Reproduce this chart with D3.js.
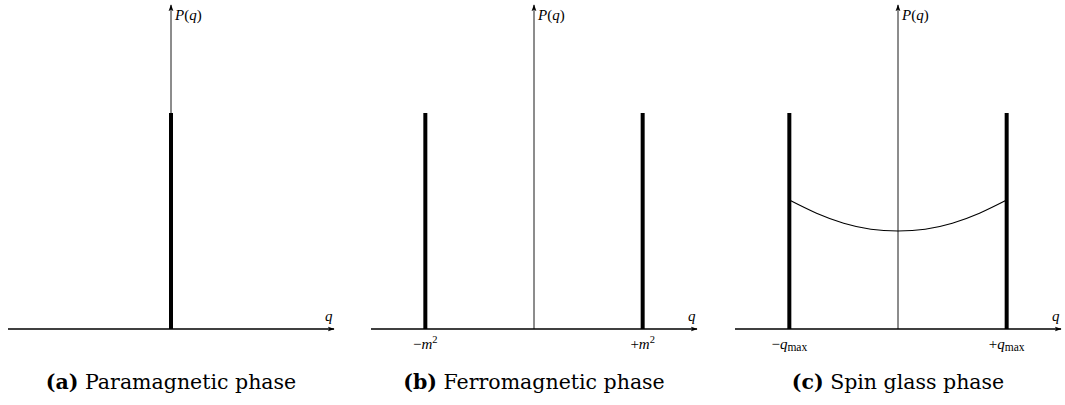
<!DOCTYPE html>
<html>
<head>
<meta charset="utf-8">
<script src="https://cdn.jsdelivr.net/npm/d3@7"></script>
<style>
  body { margin: 0; background: #fff; }
  text { font-family: "Liberation Serif", "DejaVu Serif", serif; fill: #000; }
</style>
</head>
<body>
<svg id="chart" width="1065" height="405"></svg>
<script>
var width = 1065;
var height = 405;

// panel data
var panelCenters = [171, 534, 898];
var captionTags = ["(a)", "(b)", "(c)"];
var captionNames = ["Paramagnetic phase", "Ferromagnetic phase", "Spin glass phase"];
var spikesA = [0];
var spikesB = [-1, 1];
var spikesC = [-1, 1];
var spikeHeight = 1;
var labelsB = [{ q: -1, sign: "\u2212", base: "m", sup: "2" }, { q: 1, sign: "+", base: "m", sup: "2" }];
var labelsC = [{ q: -1, sign: "\u2212", base: "q", sub: "max" }, { q: 1, sign: "+", base: "q", sub: "max" }];
var curveQ = [-1, -0.75, -0.5, -0.25, 0, 0.25, 0.5, 0.75, 1];
var curveP = [0.597, 0.536, 0.49, 0.462, 0.454, 0.462, 0.49, 0.536, 0.597];

var svg = d3.select("#chart");

var defs = svg.append("defs");
defs.append("marker")
  .attr("id", "arrow")
  .attr("viewBox", "0 0 10 10")
  .attr("refX", 9).attr("refY", 5)
  .attr("markerWidth", 7).attr("markerHeight", 7)
  .attr("markerUnits", "userSpaceOnUse")
  .attr("orient", "auto")
  .append("path")
  .attr("d", "M0,1.5 L10,5 L0,8.5 L2.5,5 Z")
  .attr("fill", "#000");

var y = d3.scaleLinear().domain([0, 1.5]).range([329, 5]);

var panels = [
  { spikes: spikesA, labels: [], curve: null },
  { spikes: spikesB, labels: labelsB, curve: null },
  { spikes: spikesC, labels: labelsC, curve: curveQ.map((q, i) => ({ q: q, p: curveP[i] })) }
];

panels.forEach(function(panel, i) {
  var cx = panelCenters[i];
  var x = d3.scaleLinear().domain([-1.5, 1.5]).range([cx - 163, cx + 163]);
  var g = svg.append("g");

  // horizontal axis
  g.append("line")
    .attr("x1", x(-1.5)).attr("x2", x(1.5))
    .attr("y1", y(0)).attr("y2", y(0))
    .attr("stroke", "#000").attr("stroke-width", 1.3)
    .attr("marker-end", "url(#arrow)");

  // vertical axis
  g.append("line")
    .attr("x1", x(0)).attr("x2", x(0))
    .attr("y1", y(0)).attr("y2", y(1.5))
    .attr("stroke", "#000").attr("stroke-width", 0.9)
    .attr("marker-end", "url(#arrow)");

  g.append("text")
    .attr("x", x(1.5) - 9)
    .attr("y", y(0) - 8)
    .style("font-style", "italic")
    .style("font-size", "15px")
    .text("q");

  var pq = g.append("text")
    .attr("x", x(0) + 4)
    .attr("y", 20)
    .style("font-size", "15px");
  pq.append("tspan").style("font-style", "italic").text("P");
  pq.append("tspan").text("(");
  pq.append("tspan").style("font-style", "italic").text("q");
  pq.append("tspan").text(")");

  if (panel.curve) {
    var line = d3.line()
      .x(d => x(d.q))
      .y(d => y(d.p))
      .curve(d3.curveNatural);
    g.append("path")
      .datum(panel.curve)
      .attr("fill", "none")
      .attr("stroke", "#000")
      .attr("stroke-width", 1.1)
      .attr("d", line);
  }

  g.selectAll(".spike")
    .data(panel.spikes)
    .enter()
    .append("line")
    .attr("class", "spike")
    .attr("x1", d => x(d)).attr("x2", d => x(d))
    .attr("y1", y(0)).attr("y2", y(spikeHeight))
    .attr("stroke", "#000")
    .attr("stroke-width", 4);

  panel.labels.forEach(function(l) {
    var t = g.append("text")
      .attr("x", x(l.q))
      .attr("y", 349)
      .attr("text-anchor", "middle")
      .style("font-size", "15px");
    t.append("tspan").text(l.sign);
    t.append("tspan").style("font-style", "italic").text(l.base);
    if (l.sup) t.append("tspan").attr("dy", -6).style("font-size", "10.5px").text(l.sup);
    if (l.sub) t.append("tspan").attr("dy", 2).style("font-size", "11.5px").text(l.sub);
  });

  var cap = g.append("text")
    .attr("x", cx)
    .attr("y", 389)
    .attr("text-anchor", "middle")
    .style("font-family", "'DejaVu Serif', serif")
    .style("font-size", "20.5px");
  cap.append("tspan").style("font-weight", "bold").text(captionTags[i]);
  cap.append("tspan").text(" " + captionNames[i]);
});
</script>
</body>
</html>
